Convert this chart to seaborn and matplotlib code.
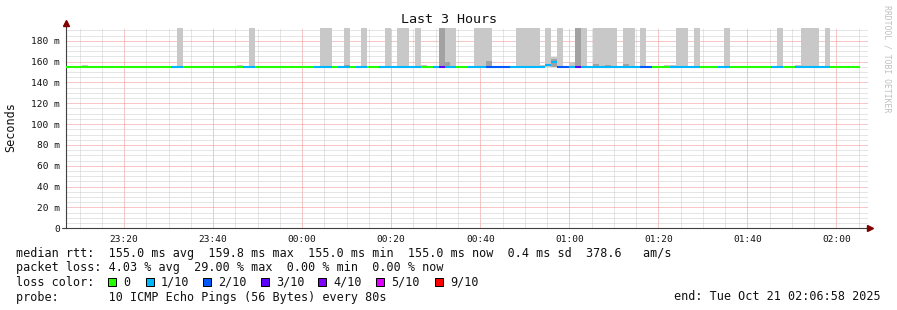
import numpy as np
import pandas as pd
import matplotlib
matplotlib.use("Agg")
import matplotlib.pyplot as plt
import matplotlib.dates as mdates
import matplotlib.ticker as mticker
from matplotlib.patches import Rectangle
import seaborn as sns

# ------------------------------------------------------------------ data
window_start = "2025-10-20 23:06:58"
window_end = "2025-10-21 02:06:58"
first_step_start = "2025-10-20 23:06:39"
step_seconds = 80

# (lost pings out of 10, number of consecutive 80 s steps)
loss_runs = [(0, 18), (1, 2), (0, 10), (1, 2), (0, 10), (1, 3), (0, 1), (1, 2),
             (0, 1), (1, 2), (0, 2), (1, 7), (0, 2), (1, 1), (3, 1), (1, 2),
             (0, 2), (1, 3), (2, 4), (1, 8), (2, 2), (1, 1), (3, 1), (1, 10),
             (2, 2), (0, 3), (1, 5), (0, 3), (1, 2), (0, 7), (1, 2), (0, 2),
             (1, 6), (0, 5)]

# (median rtt in ms, number of consecutive steps)
median_runs = [(155.0, 81), (156.3, 1), (159.8, 1), (155.0, 51)]

# smoke: highest ping of a step (ms), keyed by step index (200 = above the chart)
smoke_max_ms = {3: 156.7, 19: 200, 29: 156.8, 31: 200, 43: 200, 44: 200, 47: 200,
                50: 200, 54: 200, 56: 200, 57: 200, 59: 200, 60: 157.0, 63: 200,
                64: 200, 65: 200, 69: 200, 70: 200, 71: 200, 76: 200, 77: 200,
                78: 200, 79: 200, 80: 157.0, 81: 200, 82: 164.5, 83: 200,
                85: 159.7, 86: 200, 87: 200, 89: 200, 90: 200, 91: 200, 92: 200,
                94: 200, 95: 200, 97: 200, 101: 156.8, 102: 156.8, 103: 200,
                104: 200, 106: 200, 111: 200, 120: 200, 123: 156.8, 124: 200,
                125: 200, 126: 200, 128: 200}
# denser smoke band (several pings), keyed by step index
smoke_core_ms = {47: 156.8, 63: 200, 64: 159.3, 71: 161.0, 82: 162.0, 86: 200,
                 89: 157.6, 91: 157.0, 94: 157.8}
smoke_floor_ms = 155.0

loss_levels = [0, 1, 2, 3, 4, 5, 9]
loss_labels = ["0", "1/10", "2/10", "3/10", "4/10", "5/10", "9/10"]
loss_colors = ["#26ff00", "#00b8ff", "#0059ff", "#5e00ff", "#7e00ff", "#dd00ff", "#ff0000"]

y_ticks_ms = [0, 20, 40, 60, 80, 100, 120, 140, 160, 180]
y_tick_labels = ["0", "20 m", "40 m", "60 m", "80 m", "100 m", "120 m", "140 m", "160 m", "180 m"]
y_top_ms = 192.7

title = "Last 3 Hours"
y_label = "Seconds"
stats_rtt = "median rtt:  155.0 ms avg  159.8 ms max  155.0 ms min  155.0 ms now  0.4 ms sd  378.6   am/s"
stats_loss = "packet loss: 4.03 % avg  29.00 % max  0.00 % min  0.00 % now"
loss_title = "loss color:"
probe_text = "probe:       10 ICMP Echo Pings (56 Bytes) every 80s"
end_text = "end: Tue Oct 21 02:06:58 2025"
watermark = "RRDTOOL / TOBI OETIKER"

# ------------------------------------------------------------------ prepare
loss = np.concatenate([np.full(c, v) for v, c in loss_runs])
median = np.concatenate([np.full(c, v) for v, c in median_runs])
n = len(loss)
step_days = step_seconds / 86400.0
starts = pd.Timestamp(first_step_start) + pd.to_timedelta(np.arange(n) * step_seconds, unit="s")
t_start = mdates.date2num(starts.to_pydatetime())

label_of = dict(zip(loss_levels, loss_labels))
palette = dict(zip(loss_labels, loss_colors))
rows = []
for i in range(n):
    for t in (t_start[i], t_start[i] + step_days):
        rows.append({"t": t, "ms": median[i], "seg": i, "loss": label_of[int(loss[i])]})
df = pd.DataFrame(rows)

# ------------------------------------------------------------------ figure
sns.set_theme(style="white")
plt.rcParams["font.family"] = ["DejaVu Sans Mono"]

W, H = 897, 310
fig = plt.figure(figsize=(W / 100, H / 100), dpi=100, facecolor="white")
ax_l, ax_r, ax_t, ax_b = 66, 867.5, 27.5, 228.3
ax = fig.add_axes([ax_l / W, 1 - ax_b / H, (ax_r - ax_l) / W, (ax_b - ax_t) / H])
ax.set_facecolor("white")

def fx(x):
    return x / W

def fy(y):
    return 1 - y / H

# smoke
for d, color, z in ((smoke_max_ms, "#c8c8c8", 2.0), (smoke_core_ms, "#a2a2a2", 2.1)):
    idx = np.array(list(d.keys()))
    tops = np.array(list(d.values()), dtype=float)
    ax.bar(t_start[idx], tops - smoke_floor_ms, bottom=smoke_floor_ms, width=step_days,
           align="edge", color=color, linewidth=0, zorder=z)

# median rtt, coloured by loss
sns.lineplot(data=df, x="t", y="ms", hue="loss", units="seg", estimator=None,
             palette=palette, hue_order=loss_labels, linewidth=1.5, legend=False,
             sort=False, ax=ax, solid_capstyle="butt", zorder=4)

ax.set_xlim(mdates.date2num(pd.Timestamp(window_start).to_pydatetime()),
            mdates.date2num(pd.Timestamp(window_end).to_pydatetime()))
ax.set_ylim(0, y_top_ms)
ax.set_xlabel("")
ax.set_ylabel("")

ax.xaxis.set_major_locator(mdates.MinuteLocator(byminute=[0, 20, 40]))
ax.xaxis.set_major_formatter(mdates.DateFormatter("%H:%M"))
ax.xaxis.set_minor_locator(mdates.MinuteLocator(byminute=range(0, 60, 5)))
ax.yaxis.set_major_locator(mticker.FixedLocator(y_ticks_ms))
ax.yaxis.set_major_formatter(mticker.FixedFormatter(y_tick_labels))
ax.yaxis.set_minor_locator(mticker.MultipleLocator(5))

ax.set_axisbelow(True)
ax.grid(which="minor", color="#cdcdcd", linestyle=(0, (1, 1)), linewidth=0.72)
ax.grid(which="major", color="#f09090", linestyle=(0, (1, 1)), linewidth=0.72)

for s in ("top", "right"):
    ax.spines[s].set_visible(False)
for s in ("left", "bottom"):
    ax.spines[s].set_color("#404040")
    ax.spines[s].set_linewidth(0.8)

ax.tick_params(axis="x", which="major", length=2.5, width=0.72, color="#404040",
               direction="out", pad=2.0, labelsize=6.8, labelcolor="#111111")
ax.tick_params(axis="x", which="minor", length=1.5, width=0.72, color="#404040", direction="out")
ax.tick_params(axis="y", which="major", length=1.5, width=0.72, color="#404040",
               direction="out", pad=3.0, labelsize=6.8, labelcolor="#111111")
ax.tick_params(axis="y", which="minor", length=0)

# axis arrows
ax.plot([0, 0], [1, 1.02], color="#404040", lw=0.8, transform=ax.transAxes, clip_on=False)
ax.plot([-4 / (ax_r - ax_l), 0], [0, 0], color="#404040", lw=0.8, transform=ax.transAxes, clip_on=False)
ax.plot([1, 1.003], [0, 0], color="#404040", lw=0.8, transform=ax.transAxes, clip_on=False)
ax.plot([0], [1.021], marker="^", ms=4.5, color="#800000", mec="#800000",
        transform=ax.transAxes, clip_on=False, zorder=6)
ax.plot([1.0035], [0], marker=">", ms=4.5, color="#800000", mec="#800000",
        transform=ax.transAxes, clip_on=False, zorder=6)

# texts
fs = 8.5
fig.text(fx(448.5), fy(19.5), title, ha="center", va="center", fontsize=9.6, color="#111111")
fig.text(fx(11), fy(127), y_label, ha="center", va="center", rotation=90, fontsize=fs, color="#111111")
fig.text(fx(887), fy(59), watermark, ha="center", va="center", rotation=270, fontsize=5.9, color="#c0c0c0")

fig.text(fx(16), fy(254), stats_rtt, ha="left", va="center", fontsize=fs, color="#111111")
fig.text(fx(16), fy(268), stats_loss, ha="left", va="center", fontsize=fs, color="#111111")
fig.text(fx(16), fy(282), loss_title, ha="left", va="center", fontsize=fs, color="#111111")
fig.text(fx(16), fy(297), probe_text, ha="left", va="center", fontsize=fs, color="#111111")
fig.text(fx(881), fy(297), end_text, ha="right", va="center", fontsize=fs, color="#111111")

box_x = [108, 146, 203, 261, 318, 376, 435]
for bx, lab, col in zip(box_x, loss_labels, loss_colors):
    fig.add_artist(Rectangle((fx(bx), fy(286)), 8 / W, 8 / H, transform=fig.transFigure,
                             facecolor=col, edgecolor="black", linewidth=0.72))
    fig.text(fx(bx + 15), fy(282), lab, ha="left", va="center", fontsize=fs, color="#111111")

fig.savefig("out.png", dpi=100, facecolor="white")
